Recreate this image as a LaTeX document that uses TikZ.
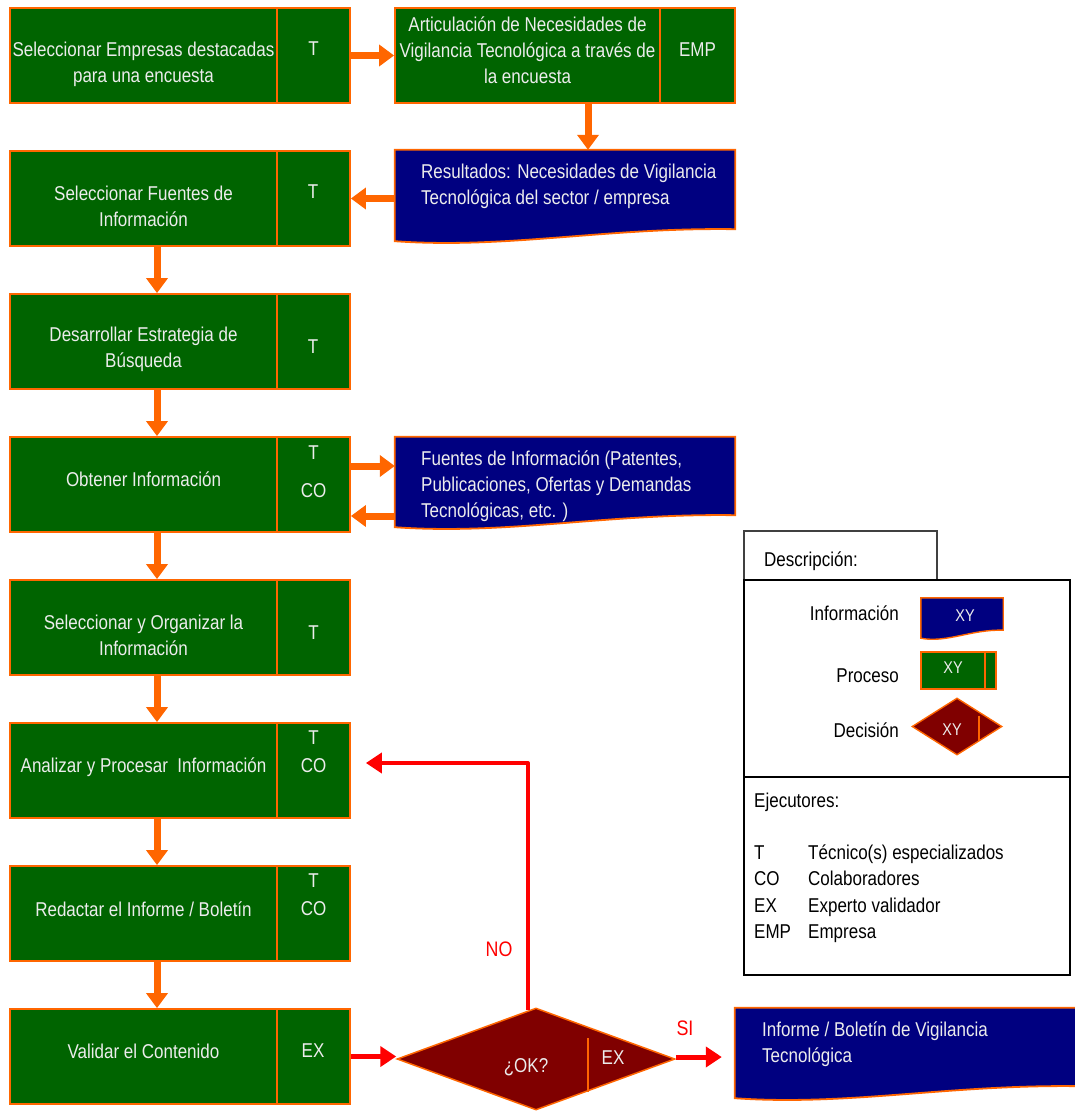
\documentclass[tikz,border=0pt]{standalone}
\usepackage{fontspec}
\setmainfont[FakeStretch=0.85]{Liberation Sans}
\usetikzlibrary{arrows.meta,shapes.geometric,calc,backgrounds}

\definecolor{pgreen}{RGB}{0,100,0}
\definecolor{bord}{RGB}{255,102,0}
\definecolor{iblue}{RGB}{0,0,128}
\definecolor{dred}{RGB}{128,0,0}
\definecolor{ared}{RGB}{255,0,0}
\definecolor{txt}{RGB}{236,236,236}

\tikzset{
  cell/.style={draw=bord, fill=pgreen, line width=1.8pt, inner sep=0pt, minimum height=95pt},
  maincell/.style={cell, minimum width=267pt},
  execcell/.style={cell, minimum width=73pt},
  wtxt/.style={text=txt, align=center, inner sep=0pt},
  ltxt/.style={text=txt, align=left, inner sep=0pt, anchor=west},
  btxt/.style={text=black, inner sep=0pt},
  docframe/.style={inner sep=0pt},
  docline/.style={draw=bord, fill=iblue, line width=1.8pt},
  decision/.style={diamond, draw=bord, fill=dred, line width=1.5pt, inner sep=0pt},
  oarrow/.style={draw=bord, line width=7pt, -{Triangle[width=21pt,length=15pt]}},
  rarrow/.style={draw=ared, line width=5pt, -{Triangle[width=20pt,length=16pt]}},
  rline/.style={draw=ared, line width=4pt, line join=round},
  legframe/.style={draw=black, line width=2.2pt}
}

% document symbol with a wavy lower edge, drawn round a named frame node
\newcommand\docshape[3]{%
  \draw[docline] (#1.north west) -- (#1.north east) -- ($(#1.south east)+(0,-#2)$)
    .. controls ($(#1.south east)+(-#3*0.38,-#2-2)$) and ($(#1.south west)+(#3*0.33,8)$)
    .. (#1.south west) -- cycle;}

\begin{document}
\begin{tikzpicture}[x=1pt,y=-1pt, font=\fontsize{20}{26}\selectfont]
\useasboundingbox (0,0) rectangle (1074,1113);

% ---------- process boxes, left column ----------
\node[maincell] (p1) at (143.5,55.5) {};
\node[execcell] (x1) at (313.5,55.5) {};
\node[wtxt] (t1) at (143.5,64) {Seleccionar Empresas destacadas\\para una encuesta};
\node[wtxt] (e1) at (313.5,49) {T};

\node[cell, minimum width=265pt] (p2b) at (527.5,55.5) {};
\node[cell, minimum width=75pt] (x2b) at (697.5,55.5) {};
\node[wtxt] (t2b) at (527.5,50.5) {Articulación de Necesidades de\\Vigilancia Tecnológica a través de\\la encuesta};
\node[wtxt] (e2b) at (697.5,50) {EMP};

\node[maincell] (p2) at (143.5,198.5) {};
\node[execcell] (x2) at (313.5,198.5) {};
\node[wtxt] (t2) at (143.5,206) {Seleccionar Fuentes de\\Información};
\node[wtxt] (e2) at (313,192) {T};

\node[maincell] (p3) at (143.5,341.5) {};
\node[execcell] (x3) at (313.5,341.5) {};
\node[wtxt] (t3) at (143.5,349) {Desarrollar Estrategia de\\Búsqueda};
\node[wtxt] (e3) at (313,347) {T};

\node[maincell] (p4) at (143.5,484.5) {};
\node[execcell] (x4) at (313.5,484.5) {};
\node[wtxt, anchor=base] (t4) at (143.5,486) {Obtener Información};
\node[wtxt] (e4a) at (313.5,453) {T};
\node[wtxt] (e4b) at (313.5,491) {CO};

\node[maincell] (p5) at (143.5,627.5) {};
\node[execcell] (x5) at (313.5,627.5) {};
\node[wtxt] (t5) at (143.5,635) {Seleccionar y Organizar la\\Información};
\node[wtxt] (e5) at (313.5,633) {T};

\node[maincell] (p6) at (143.5,770.5) {};
\node[execcell] (x6) at (313.5,770.5) {};
\node[wtxt, anchor=base] (t6) at (143.5,772) {Analizar y Procesar \ Información};
\node[wtxt] (e6a) at (313.5,738) {T};
\node[wtxt] (e6b) at (313.5,766) {CO};

\node[maincell] (p7) at (143.5,913.5) {};
\node[execcell] (x7) at (313.5,913.5) {};
\node[wtxt, anchor=base] (t7) at (143.5,916) {Redactar el Informe / Boletín};
\node[wtxt] (e7a) at (313.5,881) {T};
\node[wtxt] (e7b) at (313.5,909) {CO};

\node[maincell] (p8) at (143.5,1056.5) {};
\node[execcell] (x8) at (313.5,1056.5) {};
\node[wtxt, anchor=base] (t8) at (143.5,1058) {Validar el Contenido};
\node[wtxt] (e8) at (313,1051) {EX};

% ---------- information documents ----------
\node[docframe, minimum width=340pt, minimum height=91pt] (r1) at (565,195.5) {};
\node[docframe, minimum width=340pt, minimum height=90pt] (f1) at (565,482) {};
\node[docframe, minimum width=345pt, minimum height=90pt] (i1) at (907.5,1053) {};
\docshape{r1}{12}{340}
\docshape{f1}{12}{340}
\docshape{i1}{12}{345}
\node[ltxt] (tr1) at (421,186) {Resultados: Necesidades de Vigilancia\\Tecnológica del sector / empresa};
\node[ltxt] (tf1) at (421,486) {Fuentes de Información (Patentes,\\Publicaciones, Ofertas y Demandas\\Tecnológicas, etc. )};
\node[ltxt] (ti1) at (762,1044) {Informe / Boletín de Vigilancia\\Tecnológica};

% ---------- decision ----------
\node[decision, minimum width=278pt, minimum height=102pt] (d) at (536,1059) {};
\draw[draw=bord, line width=1.5pt] ([xshift=52pt,yshift=21pt]d.center) -- ([xshift=52pt,yshift=-33pt]d.center);
\node[wtxt] (tq) at (526,1067) {¿OK?};
\node[wtxt] (te) at (613,1058) {EX};

% ---------- orange connectors ----------
\draw[oarrow] (x1.east) -- (p2b.west);
\draw[oarrow] ([xshift=60.5pt]p2b.south) -- ([xshift=60.5pt]p2b.south |- r1.north);
\draw[oarrow] (r1.west |- x2.east) -- (x2.east);
\draw[oarrow] ([xshift=13.5pt]p2.south) -- ([xshift=13.5pt]p3.north);
\draw[oarrow] ([xshift=13.5pt]p3.south) -- ([xshift=13.5pt]p4.north);
\draw[oarrow] ([xshift=13.5pt]p4.south) -- ([xshift=13.5pt]p5.north);
\draw[oarrow] ([xshift=13.5pt]p5.south) -- ([xshift=13.5pt]p6.north);
\draw[oarrow] ([xshift=13.5pt]p6.south) -- ([xshift=13.5pt]p7.north);
\draw[oarrow] ([xshift=13.5pt]p7.south) -- ([xshift=13.5pt]p8.north);
\coordinate (o4out) at ([yshift=18.5pt]x4.east);
\coordinate (o4in) at ([yshift=-31.5pt]x4.east);
\draw[oarrow] (o4out) -- (o4out -| f1.west);
\draw[oarrow] (o4in -| f1.west) -- (o4in);

% ---------- red connectors ----------
\draw[rarrow] (x8.east) -- (x8.east -| d.west);
\coordinate (noend) at ([xshift=15pt,yshift=7.5pt]x6.east);
\draw[rline] ([xshift=-8pt,yshift=-3pt]d.north) |- ([xshift=12pt]noend);
\draw[rarrow] ([xshift=14pt]noend) -- (noend);
\coordinate (siend) at ([xshift=-13pt]i1.west);
\draw[rarrow] ([yshift=2pt]d.east) -- ([yshift=2pt]d.east -| siend);
\node[text=ared, inner sep=0pt] (no) at (499,949) {\fontsize{21}{24}\selectfont NO};
\node[text=ared, inner sep=0pt] (si) at (685,1028) {\fontsize{21}{24}\selectfont SI};

% ---------- legend ----------
\node[draw=black!75, line width=1.5pt, minimum width=193pt, minimum height=49pt, inner sep=0pt] (tab) at (840.5,555.5) {};
\node[btxt, anchor=base west] (tdesc) at (764,566) {Descripción:};
\node[legframe, minimum width=326pt, minimum height=197pt, inner sep=0pt] (lg1) at (907,678.5) {};
\node[legframe, minimum width=326pt, minimum height=198pt, inner sep=0pt] (lg2) at (907,876) {};

\node[btxt, anchor=east] (linfo) at (899,613) {Información};
\node[docframe, minimum width=82pt, minimum height=40pt] (li) at (962,618) {};
\draw[docline, line width=1.4pt] (li.north west) -- (li.north east) -- ([yshift=8pt]li.south east)
  .. controls ([xshift=-32pt,yshift=9pt]li.south east) and ([xshift=26pt,yshift=-5pt]li.south west) .. (li.south west) -- cycle;
\node[wtxt] (lixy) at (965,616) {\fontsize{17}{20}\selectfont XY};

\node[btxt, anchor=east] (lproc) at (899,676) {Proceso};
\node[cell, line width=1.4pt, minimum width=64pt, minimum height=37pt] (lp) at (953,670.5) {};
\node[cell, line width=1.4pt, minimum width=11pt, minimum height=37pt] (lpx) at (990.5,670.5) {};
\node[wtxt] (lpxy) at (953,668) {\fontsize{17}{20}\selectfont XY};

\node[btxt, anchor=east] (ldec) at (899,730) {Decisión};
\node[decision, line width=1.4pt, minimum width=90pt, minimum height=57pt] (ld) at (957,726.5) {};
\draw[draw=bord, line width=1.4pt] ([xshift=22pt,yshift=11pt]ld.center) -- ([xshift=22pt,yshift=-14pt]ld.center);
\node[wtxt] (ldxy) at (952,730) {\fontsize{17}{20}\selectfont XY};

\node[btxt, anchor=base west] (lej) at (754,807) {Ejecutores:};
\node[btxt, anchor=base west] (k1) at (754,859) {T};
\node[btxt, anchor=base west] (k2) at (754,885) {CO};
\node[btxt, anchor=base west] (k3) at (754,912) {EX};
\node[btxt, anchor=base west] (k4) at (754,938) {EMP};
\node[btxt, anchor=base west] (v1) at (808,859) {Técnico(s) especializados};
\node[btxt, anchor=base west] (v2) at (808,885) {Colaboradores};
\node[btxt, anchor=base west] (v3) at (808,912) {Experto validador};
\node[btxt, anchor=base west] (v4) at (808,938) {Empresa};
\end{tikzpicture}
\end{document}
